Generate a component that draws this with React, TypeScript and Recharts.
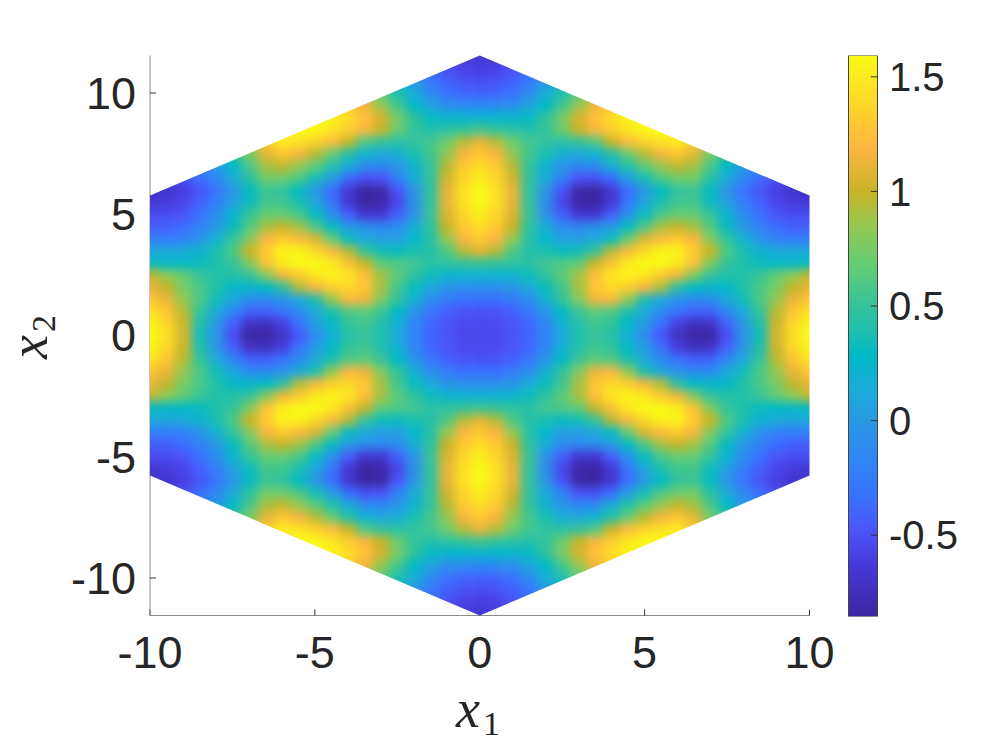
import React from "react";
import { ScatterChart, Scatter, XAxis, YAxis, BarChart, Bar, Label } from "recharts";

// Field values for the quadrant x1 >= 0, x2 >= 0 (the picture is mirror symmetric).
// Each row starts at x1 = 0 and steps by 0.5; it stops a little past the hexagon's edge.
const x2Rows = [0,0.5,1,1.5,2,2.5,3,3.5,4,4.5,5,5.5,6,6.5,7,7.5,8,8.5,9,9.5,10,10.5,11,11.5];
const r00 = [-.55,-.55,-.5,-.4,-.2,.1,.4,.5,.42,.15,-.12,-.48,-.72,-.85,-.85,-.52,-.05,.35,1.05,1.42,1.6];
const r05 = [-.53,-.53,-.48,-.38,-.15,.18,.42,.55,.48,.28,.02,-.32,-.6,-.72,-.7,-.42,.0,.4,1.02,1.38,1.55];
const r10 = [-.5,-.48,-.42,-.28,-.03,.28,.52,.65,.6,.38,.12,-.12,-.3,-.42,-.4,-.15,.12,.5,.95,1.28,1.45];
const r15 = [-.33,-.33,-.25,-.1,.18,.5,.78,1.15,1.2,.85,.38,.1,-.05,-.12,-.1,.1,.35,.6,.85,1.12,1.28];
const r20 = [-.1,-.08,-.02,.12,.32,.55,.9,1.28,1.4,1.32,1.18,.92,.45,.28,.22,.28,.42,.58,.75,.98,1.12];
const r25 = [.2,.2,.22,.33,.48,.65,.9,1.25,1.48,1.55,1.48,1.3,1.15,.78,.5,.42,.42,.52,.68,.82,.98];
const r30 = [.52,.5,.48,.46,.55,.6,.65,1.0,1.25,1.5,1.6,1.6,1.5,1.25,.78,.5,.4,.32,.28,.28,.3];
const r35 = [1.1,.95,.6,.42,.38,.32,.35,.5,.95,1.2,1.4,1.55,1.55,1.32,1.0,.6,.38,.22,.12,.1,.12];
const r40 = [1.3,1.18,.85,.43,.25,.05,.05,.12,.3,.7,1.08,1.22,1.3,1.18,.78,.5,.18,-.05,-.2,-.25,-.22];
const r45 = [1.42,1.3,1.0,.48,.15,-.1,-.15,-.08,.02,.3,.6,.9,1.0,.9,.62,.3,.0,-.2,-.35,-.42,-.42];
const r50 = [1.52,1.38,1.08,.52,-.05,-.42,-.65,-.65,-.42,-.05,.32,.58,.68,.68,.5,.22,-.1,-.32,-.48,-.52,-.52];
const r55 = [1.6,1.44,1.12,.5,-.08,-.55,-.82,-.85,-.65,-.28,.1,.38,.55,.55,.33,.05,-.22,-.42,-.55,-.62,-.65];
const r60 = [1.6,1.44,1.12,.48,-.02,-.48,-.82,-.85,-.65,-.35,.0,.3,.48,.52,.3,-.02,-.3,-.48,-.6,-.68,-.7];
const r65 = [1.52,1.38,1.05,.5,.12,-.2,-.48,-.5,-.35,.05,.36,.6,.72,.72,.45,.12,-.15,-.35,-.5,-.6,-.65];
const r70 = [1.42,1.3,.95,.5,.2,-.02,-.15,-.1,.15,.42,.65,.85,.98,.9,.58,.28,.0,-.2,-.35];
const r75 = [1.3,1.18,.85,.55,.38,.15,.12,.2,.42,.7,.95,1.18,1.28,1.1,.75,.45,.2,.0];
const r80 = [1.12,.95,.72,.55,.48,.45,.5,.6,1.0,1.22,1.35,1.45,1.5,1.3,.9,.6];
const r85 = [.55,.5,.46,.42,.5,.7,1.0,1.2,1.32,1.48,1.58,1.6,1.5,1.2];
const r90 = [.22,.24,.25,.3,.48,.75,1.05,1.25,1.42,1.55,1.6,1.5];
const r95 = [-.15,-.12,-.08,.08,.28,.55,.85,1.15,1.3,1.4];
const r100 = [-.4,-.38,-.3,-.12,.15,.4,.65,.9,1.1];
const r105 = [-.52,-.5,-.42,-.28,-.02,.25,.5,.7];
const r110 = [-.6,-.58,-.5,-.38,-.15,.1,.35];
const r115 = [-.65,-.62,-.55,-.45,-.28,-.1];
const fieldRows = [r00,r05,r10,r15,r20,r25,r30,r35,r40,r45,r50,r55,r60,r65,r70,r75,r80,r85,r90,r95,r100,r105,r110,r115];

const xTicks = [-10,-5,0,5,10];
const yTicks = [-10,-5,0,5,10];
const barTicks = [-0.5,0,0.5,1,1.5];
const barDomain: [number, number] = [-0.855,1.593];
const x2Limit = 11.547;
const hexVertices = [[0,11.547],[10,5.7735],[10,-5.7735],[0,-11.547],[-10,-5.7735],[-10,5.7735]];

// Colour map: [position, colour]
const colourStops: [number,string][] = [
  [0,"#3c26a0"],[0.09,"#4638d8"],[0.155,"#4b55fa"],[0.21,"#3a70ff"],[0.28,"#2f86f5"],[0.34,"#2b96e6"],
  [0.405,"#1cacd8"],[0.465,"#00b9c7"],[0.505,"#1cbfb0"],[0.555,"#35c39a"],[0.62,"#5fcd78"],[0.70,"#98c850"],
  [0.757,"#c8b428"],[0.835,"#fdb543"],[0.88,"#ffc832"],[1,"#f9fb15"],
];

const W = 997, H = 747;
const plot = { left: 150, right: 809.5, top: 55.5, bottom: 615.5 };
const sx = (x: number) => plot.left + ((x + 10) / 20) * (plot.right - plot.left);
const sy = (y: number) => plot.bottom - ((y + x2Limit) / (2 * x2Limit)) * (plot.bottom - plot.top);

const hex = (c: string) => [1,3,5].map((i) => parseInt(c.slice(i,i+2),16));
function colourOf(v: number) {
  const t = Math.max(0, Math.min(1, (v - barDomain[0]) / (barDomain[1] - barDomain[0])));
  let i = 0;
  while (i < colourStops.length - 2 && t > colourStops[i+1][0]) i++;
  const [p0,c0] = colourStops[i], [p1,c1] = colourStops[i+1];
  const f = (t - p0) / (p1 - p0);
  const a = hex(c0), b = hex(c1);
  return `rgb(${a.map((q,k)=>Math.round(q+(b[k]-q)*f)).join(",")})`;
}

type CellDatum = { x: number; y: number; v: number; last: boolean };
const cells: CellDatum[] = [];
x2Rows.forEach((y, r) => {
  fieldRows[r].forEach((v, c) => {
    const x = c * 0.5;
    const last = c === fieldRows[r].length - 1;
    [x, -x].filter((q, i) => i === 0 || q !== x).forEach((qx) => {
      [y, -y].filter((q, i) => i === 0 || q !== y).forEach((qy) => cells.push({ x: qx, y: qy, v, last }));
    });
  });
});

const cellW = 0.5 * (plot.right - plot.left) / 20;
const cellH = 0.5 * (plot.bottom - plot.top) / (2 * x2Limit);

function HeatCell(props: any) {
  const { cx, cy, payload } = props;
  const outX = payload.last ? 40 : 0;
  const outY = Math.abs(payload.y) === 11.5 ? 40 : 0;
  const left = cx - cellW/2 - 0.3 - (payload.x < 0 ? outX : 0);
  const top = cy - cellH/2 - 0.3 - (payload.y > 0 ? outY : 0);
  return <rect x={left} y={top} width={cellW + 0.6 + outX} height={cellH + 0.6 + outY} fill={colourOf(payload.v)} />;
}

const tickStyle = { fontFamily: "Liberation Sans", fontSize: 45, fill: "#262626" };
const mathStyle = { fontFamily: "Liberation Serif", fill: "#262626" };

const X1Label = () => (
  <text x={478} y={727} textAnchor="middle" style={mathStyle}>
    <tspan fontStyle="italic" fontSize={54}>x</tspan>
    <tspan fontSize={34} dy={8} dx={3}>1</tspan>
  </text>
);
const X2Label = () => (
  <text transform="translate(47,337) rotate(-90)" textAnchor="middle" style={mathStyle}>
    <tspan fontStyle="italic" fontSize={54}>x</tspan>
    <tspan fontSize={34} dy={8} dx={3}>2</tspan>
  </text>
);

export default function App() {
  return (
    <div style={{ position: "absolute", left: 0, top: 0, width: W, height: H, background: "#fff" }}>
      <style>{`.recharts-scatter{filter:url(#heatBlur);clip-path:url(#hexClip);}`}</style>
      <svg width={0} height={0} style={{ position: "absolute" }}>
        <defs>
          <filter id="heatBlur" filterUnits="userSpaceOnUse" x={0} y={0} width={W} height={H} colorInterpolationFilters="sRGB">
            <feGaussianBlur stdDeviation="5 5" />
          </filter>
          <clipPath id="hexClip" clipPathUnits="userSpaceOnUse">
            <polygon points={hexVertices.map(([a,b]) => `${sx(a)},${sy(b)}`).join(" ")} />
          </clipPath>
          <linearGradient id="parula" x1="0" y1="1" x2="0" y2="0">
            {colourStops.map(([p,c]) => <stop key={p} offset={p} stopColor={c} />)}
          </linearGradient>
        </defs>
      </svg>
      <div style={{ position: "absolute", left: 0, top: 0 }}>
        <ScatterChart width={W} height={H} margin={{ left: 0, right: W - plot.right, top: plot.top, bottom: 0 }}>
          <XAxis type="number" dataKey="x" domain={[-10,10]} ticks={xTicks} allowDataOverflow height={H - plot.bottom}
            tickSize={-6} tickMargin={27} tick={tickStyle} stroke="#8c8c8c" tickLine={{ stroke: "#333" }} interval={0}>
            <Label content={X1Label} />
          </XAxis>
          <YAxis type="number" dataKey="y" domain={[-x2Limit,x2Limit]} ticks={yTicks} allowDataOverflow width={plot.left}
            tickSize={-6} tickMargin={20} tick={tickStyle} stroke="#8c8c8c" tickLine={{ stroke: "#333" }} interval={0}>
            <Label content={X2Label} />
          </YAxis>
          <Scatter data={cells} isAnimationActive={false} shape={HeatCell} />
        </ScatterChart>
      </div>
      <div style={{ position: "absolute", left: 0, top: 0 }}>
        <BarChart width={W} height={H} data={[{ name: "c", range: barDomain }]} barCategoryGap={0}
          margin={{ left: 848.5, right: 0, top: 55.5, bottom: H - 616.5 }}>
          <XAxis dataKey="name" hide />
          <Bar dataKey="range" fill="url(#parula)" stroke="#444" strokeWidth={1} isAnimationActive={false} />
          <YAxis orientation="right" type="number" domain={barDomain} ticks={barTicks} allowDataOverflow width={120}
            tickSize={-6} tickMargin={18} tick={{ ...tickStyle, fontSize: 40 }} axisLine={false} tickLine={{ stroke: "#333" }} interval={0} />
        </BarChart>
      </div>
    </div>
  );
}
